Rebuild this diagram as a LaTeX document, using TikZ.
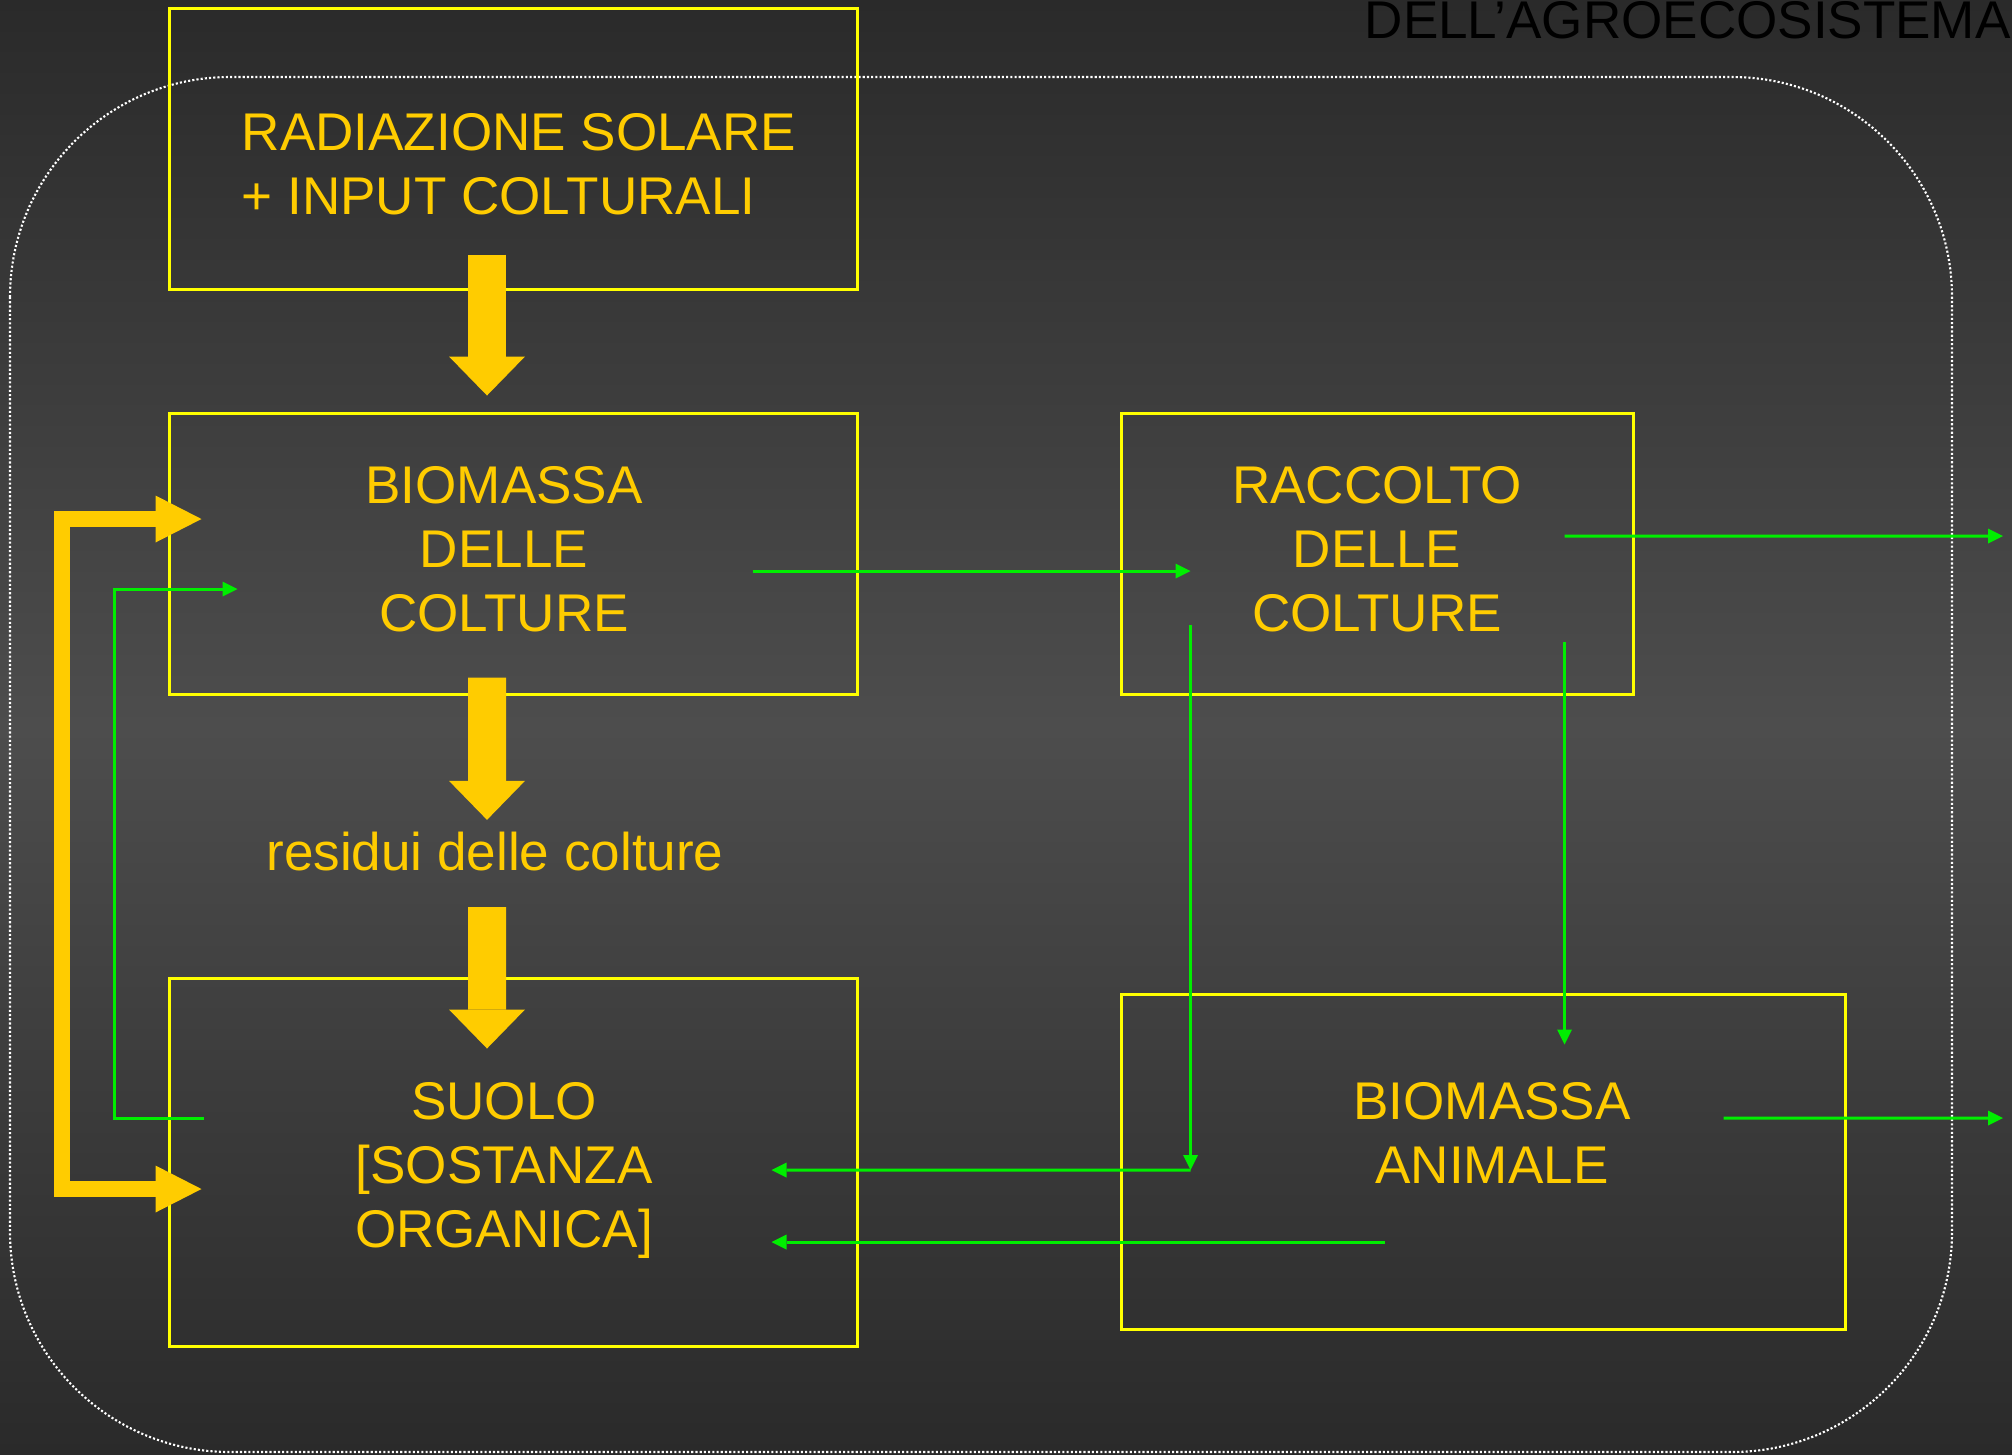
\documentclass[tikz,border=0pt]{standalone}
\usepackage{fontspec}
\setmainfont{Liberation Sans}
\usepackage{tikz}
\usetikzlibrary{positioning,arrows.meta}

\definecolor{bgdark}{HTML}{2A2A2A}
\definecolor{bgmid}{HTML}{4D4D4D}
\definecolor{boxyel}{HTML}{FFFF00}
\definecolor{txtgold}{HTML}{FFCC00}
\definecolor{flowgrn}{HTML}{00EE00}

\begin{document}
\begin{tikzpicture}[
  box/.style={draw=boxyel, line width=0.03cm, minimum width=6.88cm,
              minimum height=2.81cm, inner sep=0pt},
  lbl/.style={text=txtgold, font=\fontsize{15.1}{18.1}\selectfont,
              inner sep=0pt, align=center},
  fat/.style={draw=txtgold, line width=0.38cm,
              -{Triangle[length=0.39cm, width=0.76cm, line width=0pt]}},
  ret/.style={draw=txtgold, line width=0.16cm,
              {Triangle[length=0.46cm, width=0.47cm, line width=0pt]}-{Triangle[length=0.46cm, width=0.47cm, line width=0pt]}},
  flow/.style={draw=flowgrn, line width=0.03cm,
               -{Triangle[length=0.15cm, width=0.15cm, line width=0pt]}},
  frame/.style={draw=white, line width=0.6pt, dash pattern=on 0.6pt off 0.6pt,
                rounded corners=2.2cm}
]
%% --- Background and outer frame ---
\shade[top color=bgdark, bottom color=bgdark, middle color=bgmid]
  (0,0) rectangle (20.12,-14.54);
\useasboundingbox (0,0) rectangle (20.12,-14.54);
\draw[frame] (0.10,-0.77) rectangle (19.52,-14.52);
\node[font=\fontsize{15.1}{18.1}\selectfont, text=black, anchor=base west,
      inner sep=0pt] (title) at (13.64,-0.38) {DELL’AGROECOSISTEMA};

%% --- Boxes ---
\node[box] (rad) at (5.13,-1.485) {};
\node[box, below=1.21cm of rad] (bio) {};
\node[box, minimum height=3.68cm, below=2.81cm of bio] (suolo) {};
\node[box, minimum width=5.12cm, right=2.61cm of bio] (racc) {};
\node[box, minimum width=7.24cm, minimum height=3.35cm,
      below=2.97cm of racc.south west, anchor=north west] (anim) {};

%% --- Labels ---
\node[lbl, align=left, anchor=north west] (radtxt) at (2.41,-1.13)
  {RADIAZIONE SOLARE\\+ INPUT COLTURALI};
\node[lbl, anchor=north] (biotxt) at (5.04,-4.66) {BIOMASSA\\DELLE\\COLTURE};
\node[lbl, anchor=base] (restxt) at (4.95,-8.70) {residui delle colture};
\node[lbl, anchor=north] (suotxt) at (5.04,-10.82) {SUOLO\\{}[SOSTANZA\\ORGANICA]};
\node[lbl, anchor=north] (racctxt) at (13.77,-4.66) {RACCOLTO\\DELLE\\COLTURE};
\node[lbl, anchor=north] (animtxt) at (14.92,-10.82) {BIOMASSA\\ANIMALE};

%% --- Main (yellow) flow ---
\draw[fat] ([xshift=-0.26cm, yshift=0.36cm]rad.south) -- ([xshift=-0.26cm, yshift=0.16cm]bio.north);
\draw[fat] ([xshift=-0.26cm, yshift=0.18cm]bio.south) -- ([xshift=-0.08cm, yshift=0.11cm]restxt.north);
\draw[fat] ([xshift=-0.08cm, yshift=-0.36cm]restxt.south) -- ([xshift=-0.26cm, yshift=-0.72cm]suolo.north);
\draw[ret] ([xshift=0.34cm, yshift=0.345cm]bio.west) -- ++(-1.40,0)
  |- ([xshift=0.34cm, yshift=-0.27cm]suolo.west);

%% --- Green flows ---
\coordinate (outc) at (20.03,-5.36);
\coordinate (outa) at (20.03,-11.18);
\coordinate (knee) at ([xshift=0.71cm, yshift=-6.165cm]racc.west);
\draw[flow] ([xshift=0.36cm, yshift=0.44cm]suolo.west) -- ++(-0.89,0)
  |- ([xshift=0.70cm, yshift=-0.355cm]bio.west);
\draw[flow] ([xshift=-1.06cm, yshift=-0.175cm]bio.east) -- ([xshift=0.71cm, yshift=-0.175cm]racc.west);
\draw[flow] ([xshift=-0.70cm, yshift=0.175cm]racc.east) -- (outc);
\draw[flow] ([xshift=0.71cm, yshift=-0.715cm]racc.west) -- (knee);
\draw[flow] (knee) -- ([xshift=-0.87cm, yshift=-0.08cm]suolo.east);
\draw[flow] ([xshift=2.65cm, yshift=-0.805cm]anim.west) -- ([xshift=-0.87cm, yshift=-0.80cm]suolo.east);
\draw[flow] ([xshift=-0.70cm, yshift=-0.885cm]racc.east) -- ([xshift=-0.70cm, yshift=-0.52cm]racc.east |- anim.north);
\draw[flow] ([xshift=-1.23cm, yshift=0.435cm]anim.east) -- (outa);
\end{tikzpicture}
\end{document}
